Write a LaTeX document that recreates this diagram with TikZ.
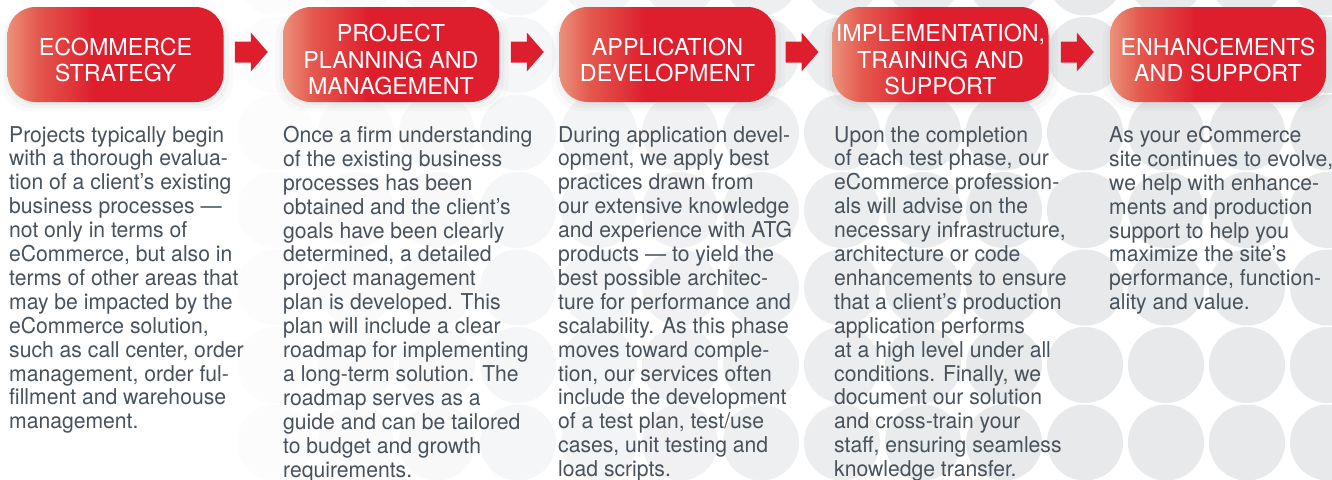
\documentclass[tikz,border=0pt]{standalone}
\usepackage{fontspec}
\setmainfont{TeX Gyre Heros}
\newfontfamily\bodyfont[FakeStretch=0.97]{TeX Gyre Heros}
\usetikzlibrary{calc,shadows}
\definecolor{boxred}{RGB}{222,30,45}
\definecolor{boxmid}{RGB}{228,88,78}
\definecolor{boxsalmon}{RGB}{235,145,122}
\definecolor{bodygray}{RGB}{72,82,92}
\definecolor{dotgray}{RGB}{232,233,235}
\pgfdeclarehorizontalshading{boxshade}{100bp}{color(0bp)=(boxsalmon); color(25bp)=(boxsalmon); color(32bp)=(boxmid); color(45bp)=(boxred); color(100bp)=(boxred)}
\tikzset{
  stage/.style={rounded corners=28pt, minimum width=216pt, minimum height=95pt,
    shade, shading=boxshade, inner sep=0pt,
    drop shadow={opacity=0.06, shadow xshift=1pt, shadow yshift=-3pt, shadow scale=1.0},
    drop shadow={opacity=0.05, shadow xshift=1pt, shadow yshift=-4pt, shadow scale=1.04},
    drop shadow={opacity=0.04, shadow xshift=1pt, shadow yshift=-5pt, shadow scale=1.08}},
  stagetext/.style={text=white, align=center, inner sep=0pt,
    font=\fontsize{23.3}{26.5}\selectfont},
  body/.style={anchor=north west, inner sep=0pt, align=left, text=bodygray,
    font=\bodyfont\fontsize{21.8}{23.9}\selectfont},
  flow/.style={fill=boxred}
}
\begin{document}
\begin{tikzpicture}[x=1pt,y=-1pt]
\useasboundingbox (0,0) rectangle (1332,479);
\fill[white] (0,0) rectangle (1332,479);
% background dots
\foreach \i in {0,...,16}{
  \foreach \j in {-1,...,5}{
    \pgfmathsetmacro\cx{32+81*\i}
    \pgfmathsetmacro\op{min(1,max(0,(\cx-200)/800))}
    \fill[dotgray, opacity=\op] (\cx,{55+77.5*\j}) circle[radius=38];
  }
}
% stages
\node[stage] (b1) at (115.5,54.5) {};
\node[stage] (b2) at (391,54.5) {};
\node[stage] (b3) at (667.5,54.5) {};
\node[stage] (b4) at (940.5,54.5) {};
\node[stage] (b5) at (1218,54.5) {};
\node[stagetext] (l1) at ($(b1.center)+(0,5.5)$) {ECOMMERCE\\STRATEGY};
\node[stagetext] (l2) at ($(b2.center)+(0,5.5)$) {PROJECT\\PLANNING AND\\MANAGEMENT};
\node[stagetext] (l3) at ($(b3.center)+(0,5.5)$) {APPLICATION\\DEVELOPMENT};
\node[stagetext] (l4) at ($(b4.center)+(0,5.5)$) {IMPLEMENTATION,\\TRAINING AND\\SUPPORT};
\node[stagetext] (l5) at ($(b5.center)+(0,5.5)$) {ENHANCEMENTS\\AND SUPPORT};
% arrows
\foreach \a/\b in {b1/b2,b2/b3,b3/b4,b4/b5}{
  \coordinate (m\a) at ($(\a.east)!0.5!(\b.west)+(-2,-2.5)$);
  \fill[flow] (m\a) ++(-16.5,-10.5) -- ++(16,0) -- ++(0,-9) -- ++(17,19.5)
    -- ++(-17,19.5) -- ++(0,-9) -- ++(-16,0) -- cycle;
}
% texts
\node[body] (t1) at (9,126) {Projects typically begin\\with a thorough evalua-\\tion of a client’s existing\\business processes —\\not only in terms of\\eCommerce, but also in\\terms of other areas that\\may be impacted by the\\eCommerce solution,\\such as call center, order\\management, order ful-\\fillment and warehouse\\management.};
\node[body] (t2) at (283,126) {Once a firm understanding\\of the existing business\\processes has been\\obtained and the client’s\\goals have been clearly\\determined, a detailed\\project management\\plan is developed. This\\plan will include a clear\\roadmap for implementing\\a long-term solution. The\\roadmap serves as a\\guide and can be tailored\\to budget and growth\\requirements.};
\node[body] (t3) at (558,126) {During application devel-\\opment, we apply best\\practices drawn from\\our extensive knowledge\\and experience with ATG\\products — to yield the\\best possible architec-\\ture for performance and\\scalability. As this phase\\moves toward comple-\\tion, our services often\\include the development\\of a test plan, test/use\\cases, unit testing and\\load scripts.};
\node[body] (t4) at (834,126) {Upon the completion\\of each test phase, our\\eCommerce profession-\\als will advise on the\\necessary infrastructure,\\architecture or code\\enhancements to ensure\\that a client’s production\\application performs\\at a high level under all\\conditions. Finally, we\\document our solution\\and cross-train your\\staff, ensuring seamless\\knowledge transfer.};
\node[body] (t5) at (1109,126) {As your eCommerce\\site continues to evolve,\\we help with enhance-\\ments and production\\support to help you\\maximize the site’s\\performance, function-\\ality and value.};
\end{tikzpicture}
\end{document}
